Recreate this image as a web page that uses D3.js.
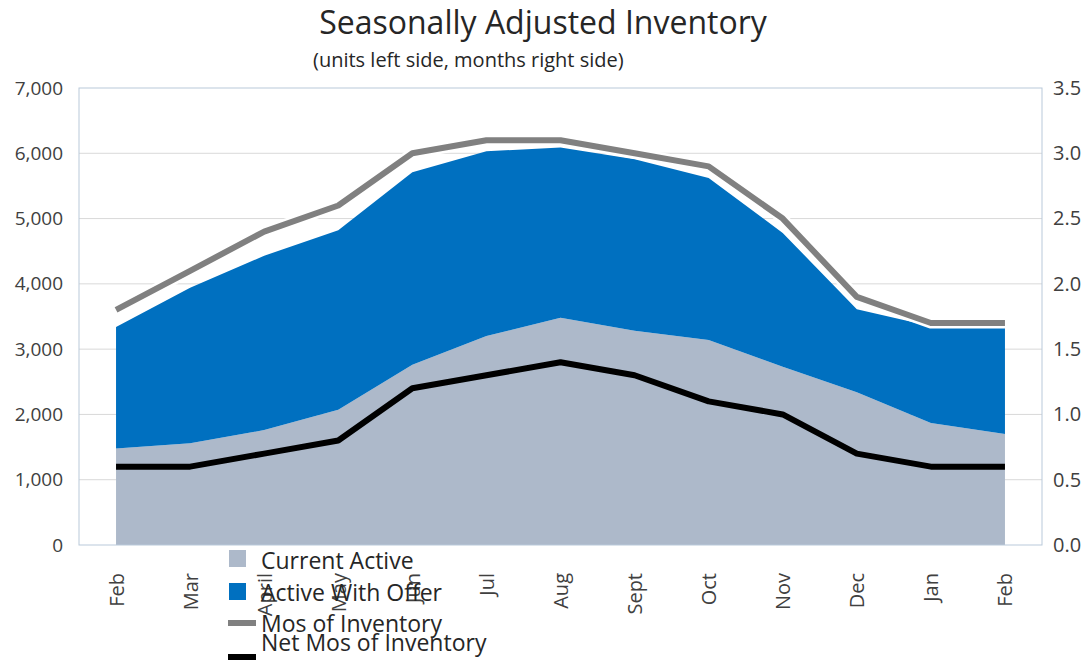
<!DOCTYPE html>
<html>
<head>
<meta charset="utf-8">
<script src="https://cdn.jsdelivr.net/npm/d3@7"></script>
<style>
  body { margin: 0; background: #fff; }
  text { font-family: "Open Sans", "Liberation Sans", sans-serif; }
</style>
</head>
<body>
<svg id="chart"></svg>
<script>
const months = ['Feb', 'Mar', 'April', 'May', 'Jun', 'Jul', 'Aug', 'Sept', 'Oct', 'Nov', 'Dec', 'Jan', 'Feb'];
const currentActive = [1480, 1560, 1760, 2070, 2760, 3200, 3480, 3280, 3140, 2730, 2340, 1870, 1700];
const activeWithOffer = [1860, 2380, 2670, 2750, 2950, 2830, 2610, 2630, 2480, 2050, 1270, 1480, 1640];
const mosInventory = [1.8, 2.1, 2.4, 2.6, 3.0, 3.1, 3.1, 3.0, 2.9, 2.5, 1.9, 1.7, 1.7];
const netMosInventory = [0.6, 0.6, 0.7, 0.8, 1.2, 1.3, 1.4, 1.3, 1.1, 1.0, 0.7, 0.6, 0.6];
const leftTicks = [0, 1000, 2000, 3000, 4000, 5000, 6000, 7000];
const rightTicks = [0, 0.5, 1, 1.5, 2, 2.5, 3, 3.5];

const width = 1091, height = 661;
const margin = { top: 88, right: 49, bottom: 116, left: 79 };

const svg = d3.select('#chart')
  .attr('width', width)
  .attr('height', height);

const idx = months.map((d, i) => i);

const x = d3.scalePoint()
  .domain(idx)
  .range([margin.left, width - margin.right])
  .padding(0.5);

const yLeft = d3.scaleLinear()
  .domain([0, 7000])
  .range([height - margin.bottom, margin.top]);

const yRight = d3.scaleLinear()
  .domain([0, 3.5])
  .range([height - margin.bottom, margin.top]);

// gridlines
svg.append('g')
  .selectAll('line')
  .data(leftTicks.slice(1, -1))
  .join('line')
  .attr('x1', margin.left)
  .attr('x2', width - margin.right)
  .attr('y1', d => yLeft(d))
  .attr('y2', d => yLeft(d))
  .attr('stroke', '#d9d9d9')
  .attr('stroke-width', 1);

// stacked areas
const rows = idx.map(i => ({ i, current: currentActive[i], offer: activeWithOffer[i] }));
const stacked = d3.stack().keys(['current', 'offer'])(rows);
const fills = { current: '#adb9ca', offer: '#0070c0' };

const area = d3.area()
  .x(d => x(d.data.i))
  .y0(d => yLeft(d[0]))
  .y1(d => yLeft(d[1]));

svg.append('g')
  .selectAll('path')
  .data(stacked)
  .join('path')
  .attr('d', area)
  .attr('fill', d => fills[d.key]);

// lines on right axis
const line = d3.line()
  .x((d, i) => x(i))
  .y(d => yRight(d));

svg.append('path')
  .attr('d', line(mosInventory))
  .attr('fill', 'none')
  .attr('stroke', '#fff')
  .attr('stroke-width', 11)
  .attr('stroke-linejoin', 'round');

svg.append('path')
  .attr('d', line(mosInventory))
  .attr('fill', 'none')
  .attr('stroke', '#808080')
  .attr('stroke-width', 6)
  .attr('stroke-linejoin', 'round');

svg.append('path')
  .attr('d', line(netMosInventory))
  .attr('fill', 'none')
  .attr('stroke', '#000')
  .attr('stroke-width', 6)
  .attr('stroke-linejoin', 'round');

// plot frame
svg.append('rect')
  .attr('x', margin.left)
  .attr('y', margin.top)
  .attr('width', width - margin.left - margin.right)
  .attr('height', height - margin.top - margin.bottom)
  .attr('fill', 'none')
  .attr('stroke', '#b9c9da')
  .attr('stroke-width', 1);

// axes
const leftAxis = svg.append('g')
  .attr('transform', `translate(${margin.left},0)`)
  .call(d3.axisLeft(yLeft).tickValues(leftTicks).tickFormat(d3.format(',')).tickSize(0).tickPadding(16));

const rightAxis = svg.append('g')
  .attr('transform', `translate(${width - margin.right},0)`)
  .call(d3.axisRight(yRight).tickValues(rightTicks).tickFormat(d3.format('.1f')).tickSize(0).tickPadding(11));

const xAxis = svg.append('g')
  .attr('transform', `translate(0,${height - margin.bottom})`)
  .call(d3.axisBottom(x).tickFormat(i => months[i]).tickSize(0));

[leftAxis, rightAxis, xAxis].forEach(g => {
  g.select('.domain').remove();
  g.selectAll('text')
    .attr('fill', '#404040')
    .style('font-size', '19px')
    .style('font-family', '"Open Sans", sans-serif');
});

rightAxis.selectAll('text').style('font-size', '20px');

xAxis.selectAll('text')
  .style('font-size', '20px')
  .attr('transform', 'rotate(-90)')
  .attr('text-anchor', 'end')
  .attr('x', -28)
  .attr('y', 0)
  .attr('dy', '0.35em');

// title
svg.append('text')
  .attr('x', 543)
  .attr('y', 34)
  .attr('text-anchor', 'middle')
  .attr('fill', '#262626')
  .style('font-size', '32px')
  .text('Seasonally Adjusted Inventory');

svg.append('text')
  .attr('x', 313)
  .attr('y', 67)
  .attr('fill', '#262626')
  .style('font-size', '20px')
  .text('(units left side, months right side)');

// legend
const legendItems = [
  { name: 'Current Active', type: 'rect', color: '#adb9ca', y: 559, textY: 561 },
  { name: 'Active With Offer', type: 'rect', color: '#0070c0', y: 592, textY: 593 },
  { name: 'Mos of Inventory', type: 'line', color: '#808080', y: 623, textY: 624 },
  { name: 'Net Mos of Inventory', type: 'line', color: '#000', y: 657, textY: 643 }
];

const legend = svg.append('g');
legendItems.forEach(d => {
  if (d.type === 'rect') {
    legend.append('rect')
      .attr('x', 229)
      .attr('y', d.y - 9)
      .attr('width', 17)
      .attr('height', 17)
      .attr('fill', d.color);
  } else {
    legend.append('line')
      .attr('x1', 228)
      .attr('x2', 256)
      .attr('y1', d.y)
      .attr('y2', d.y)
      .attr('stroke', d.color)
      .attr('stroke-width', 6);
  }
  legend.append('text')
    .attr('x', 261)
    .attr('y', d.textY)
    .attr('dy', '0.35em')
    .attr('fill', '#262626')
    .style('font-size', '23px')
    .text(d.name);
});
</script>
</body>
</html>
